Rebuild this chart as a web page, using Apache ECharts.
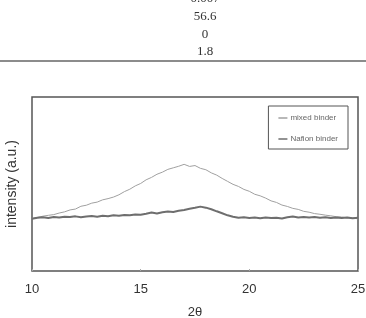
<!DOCTYPE html>
<html>
<head>
<meta charset="utf-8">
<script src="https://cdn.jsdelivr.net/npm/echarts@6/dist/echarts.min.js"></script>
<style>
  html, body { margin: 0; padding: 0; background: #fff; }
  #chart { width: 366px; height: 318px; }
</style>
</head>
<body>
<div id="chart"></div>
<script>
// 2theta positions (deg)
var twoTheta = [10, 10.25, 10.5, 10.75, 11, 11.25, 11.5, 11.75, 12, 12.25, 12.5, 12.75,
    13, 13.25, 13.5, 13.75, 14, 14.25, 14.5, 14.75, 15, 15.25, 15.5, 15.75,
    16, 16.25, 16.5, 16.75, 17, 17.25, 17.5, 17.75, 18, 18.25, 18.5, 18.75,
    19, 19.25, 19.5, 19.75, 20, 20.25, 20.5, 20.75, 21, 21.25, 21.5, 21.75,
    22, 22.25, 22.5, 22.75, 23, 23.25, 23.5, 23.75, 24, 24.25, 24.5, 24.75, 25];

var mixedBinder = [30.2, 30.8, 31.5, 32.0, 32.4, 33.3, 34.0, 35.1, 35.6, 37.2, 37.8, 39.0,
    39.6, 40.9, 41.6, 42.5, 43.8, 45.6, 47.0, 48.9, 50.3, 52.4, 53.8, 55.6,
    56.8, 58.4, 59.3, 60.2, 61.3, 60.1, 60.6, 59.0, 58.2, 56.4, 55.1, 53.2,
    51.5, 49.8, 48.6, 46.9, 45.8, 44.1, 43.2, 41.9, 40.3, 39.4, 37.9, 37.1,
    36.0, 35.4, 34.3, 33.8, 33.0, 32.6, 32.1, 31.7, 31.2, 31.0, 30.6, 30.4, 30.0];

var nafionBinder = [30.0, 30.6, 30.9, 30.5, 31.0, 30.7, 31.2, 31.0, 31.4, 30.9, 31.3, 31.6,
    31.2, 31.8, 31.5, 32.0, 31.7, 32.2, 32.0, 32.5, 32.3, 32.9, 33.6, 33.1,
    33.8, 34.2, 33.9, 34.6, 35.1, 35.8, 36.3, 37.0, 36.4, 35.5, 34.3, 33.2,
    32.0, 31.2, 30.6, 30.9, 30.5, 30.7, 30.3, 30.8, 30.4, 30.6, 30.2, 30.9,
    31.3, 30.8, 31.1, 30.7, 31.0, 30.6, 30.9, 30.5, 30.8, 30.4, 30.7, 30.3, 30.6];

var seriesNames = ['mixed binder', 'Nafion binder'];
// leftover rows of the table above the figure
var tableRows = ['0.007', '56.6', '0', '1.8'];

function pairs(xs, ys) {
    var out = [];
    for (var i = 0; i < xs.length; i++) {
        out.push([xs[i], ys[i]]);
    }
    return out;
}

var myChart = echarts.init(document.getElementById('chart'), null, {renderer: 'canvas'});

var rowY = [-1, 17, 34.5, 52];
var graphics = [];
for (var i = 0; i < tableRows.length; i++) {
    graphics.push({
        type: 'text',
        x: 205, y: rowY[i],
        style: {
            text: tableRows[i], textAlign: 'center', textVerticalAlign: 'middle',
            font: '13px "Liberation Serif", serif', fill: '#333'
        }
    });
}
graphics.push({
    type: 'line',
    shape: {x1: 0, y1: 61, x2: 366, y2: 61},
    style: {stroke: '#666', lineWidth: 1.5}
});

var option = {
    animation: false,
    textStyle: {fontFamily: '"Liberation Sans", Arial, sans-serif'},
    graphic: graphics,
    grid: {
        left: 32, right: 8, top: 97, bottom: 47,
        containLabel: false, outerBoundsMode: 'none',
        show: true, borderColor: '#555', borderWidth: 1.5
    },
    legend: {
        data: seriesNames,
        orient: 'vertical',
        right: 18, top: 106,
        borderColor: '#555', borderWidth: 1,
        padding: [8, 10, 6, 10],
        icon: 'rect',
        itemWidth: 9, itemHeight: 1.5, itemGap: 13,
        textStyle: {fontSize: 8, color: '#666', padding: [0, 0, 0, -2]}
    },
    xAxis: {
        type: 'value', min: 10, max: 25, interval: 5,
        name: '2θ', nameLocation: 'middle', nameGap: 35,
        nameTextStyle: {fontSize: 13, color: '#333'},
        axisLine: {show: false},
        axisTick: {show: true, inside: true, length: 2, lineStyle: {color: '#aaa'}},
        axisLabel: {fontSize: 13, color: '#333', margin: 12},
        splitLine: {show: false}
    },
    yAxis: {
        type: 'value', min: 0, max: 100,
        name: 'intensity (a.u.)', nameLocation: 'middle', nameGap: 13,
        nameTextStyle: {fontSize: 14, color: '#333'},
        axisLine: {show: false},
        axisTick: {show: false},
        axisLabel: {show: false},
        splitLine: {show: false}
    },
    series: [
        {
            name: seriesNames[0], type: 'line', showSymbol: false, symbol: 'none',
            data: pairs(twoTheta, mixedBinder),
            lineStyle: {color: '#a0a0a0', width: 1},
            itemStyle: {color: '#a0a0a0'}
        },
        {
            name: seriesNames[1], type: 'line', showSymbol: false, symbol: 'none',
            data: pairs(twoTheta, nafionBinder),
            lineStyle: {color: '#6e6e6e', width: 2},
            itemStyle: {color: '#6e6e6e'}
        }
    ]
};
myChart.setOption(option);
</script>
</body>
</html>
